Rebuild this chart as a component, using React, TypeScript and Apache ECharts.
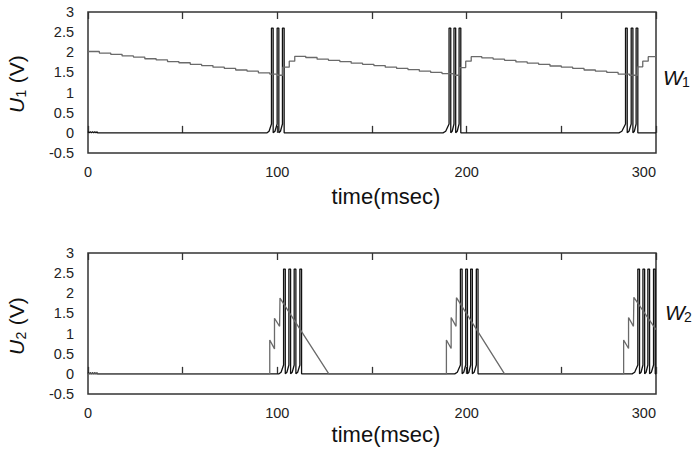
import React, { useEffect, useRef } from "react";
import * as echarts from "echarts";

// ---- axis definitions ----
const X_MIN = 0;
const X_MAX = 300;
const X_TICK_STEP = 50;
const X_LABELS = [0, 100, 200, 300];
const Y_MIN = -0.5;
const Y_MAX = 3;
const Y_STEP = 0.5;

// ---- W1 (gray staircase, top panel) [time, value] ----
const W1: number[][] = [
  [0, 2.02], [6, 1.98], [12, 1.95], [18, 1.91], [24, 1.88], [30, 1.84], [36, 1.81],
  [42, 1.77], [48, 1.74], [54, 1.70], [60, 1.67], [66, 1.63], [72, 1.60], [78, 1.56],
  [84, 1.53], [90, 1.49], [96, 1.46], [100, 1.43],
  [102.9, 1.63], [106.3, 1.78], [109.2, 1.90],
  [115, 1.87], [121, 1.83], [127, 1.80], [133, 1.77], [139, 1.73], [145, 1.70],
  [151, 1.67], [157, 1.63], [163, 1.60], [169, 1.57], [175, 1.53], [181, 1.50],
  [187, 1.47], [193, 1.43],
  [196.2, 1.62], [199.5, 1.78], [202.4, 1.89],
  [208, 1.86], [214, 1.83], [220, 1.80], [226, 1.76], [232, 1.73], [238, 1.70],
  [244, 1.66], [250, 1.63], [256, 1.60], [262, 1.56], [268, 1.53], [274, 1.50],
  [280, 1.46], [286, 1.43],
  [290.2, 1.64], [293, 1.78], [295.9, 1.89], [300, 1.89],
];

// ---- W2 (gray sawtooth, bottom panel) [time, value] ----
const W2: number[][] = [
  [0, 0], [96.0, 0], [96.0, 0.84], [98.5, 0.62], [98.5, 1.38], [101.2, 1.18],
  [101.4, 1.88], [127.2, 0],
  [189.3, 0], [189.3, 0.84], [191.8, 0.63], [191.8, 1.40], [194.4, 1.18],
  [194.6, 1.89], [220, 0],
  [282.9, 0], [282.9, 0.84], [285.5, 0.63], [285.5, 1.40], [288.1, 1.18],
  [288.3, 1.90], [300, 1.10],
];

// ---- spike trains (black traces) ----
const START_BLIP: number[][] = [
  [0, 0.03], [0.6, 0], [1.2, 0.03], [1.8, 0], [2.4, 0.03], [3.0, 0], [3.6, 0.03], [4.2, 0], [4.8, 0.03], [5.0, 0],
];
const U1_ONSETS = [94.6, 187.5, 280.4];
const U1_SPIKES = [
  [96.9, 99.9, 102.7],
  [190.7, 193.3, 196.0],
  [283.9, 286.9, 289.5],
];
const U2_ONSETS = [100.9, 193.7, 287.4];
const U2_SPIKES = [
  [103.3, 106.1, 108.9, 111.9],
  [196.7, 199.5, 202.1, 205.1],
  [290.4, 293.1, 295.7, 298.7],
];
const SPIKE_PEAK = 2.6;
const SPIKE_THRESHOLD = 0.22;
const SPIKE_WIDTH = 0.9;

function buildTrace(onsets: number[], spikes: number[][]): number[][] {
  const pts: number[][] = START_BLIP.map((p) => p.slice());
  onsets.forEach((on, i) => {
    pts.push([on, 0]);
    let prev = on;
    spikes[i].forEach((s) => {
      pts.push([prev + (s - prev) * 0.45, 0.04]);
      pts.push([s, SPIKE_THRESHOLD]);
      pts.push([s, SPIKE_PEAK]);
      pts.push([s + SPIKE_WIDTH, SPIKE_PEAK]);
      pts.push([s + SPIKE_WIDTH, 0]);
      prev = s + SPIKE_WIDTH;
    });
  });
  pts.push([X_MAX, 0]);
  return pts;
}

const FONT = "'Liberation Sans', Arial, Helvetica, sans-serif";
const FRAME = "#333";
const BLACK = "#111";
const GRAY = "#6a6a6a";

function makeAxes(gridIndex: number) {
  const bottom = {
    type: "value",
    gridIndex,
    position: "bottom",
    min: X_MIN,
    max: X_MAX,
    interval: X_TICK_STEP,
    axisLine: { show: false },
    axisTick: { show: true, inside: true, length: 7, lineStyle: { color: FRAME, width: 1.3 } },
    splitLine: { show: false },
    axisLabel: {
      show: true,
      margin: 11,
      fontSize: 14.5,
      fontFamily: FONT,
      color: "#222",
      alignMaxLabel: "right",
      formatter: (v: number) => (X_LABELS.indexOf(Math.round(v)) >= 0 ? String(Math.round(v)) : ""),
    },
  };
  const top = {
    type: "value",
    gridIndex,
    position: "top",
    min: X_MIN,
    max: X_MAX,
    interval: X_TICK_STEP,
    axisLine: { show: false },
    axisTick: { show: true, inside: true, length: 7, lineStyle: { color: FRAME, width: 1.3 } },
    splitLine: { show: false },
    axisLabel: { show: false },
  };
  const y = {
    type: "value",
    gridIndex,
    min: Y_MIN,
    max: Y_MAX,
    interval: Y_STEP,
    axisLine: { show: false },
    axisTick: { show: false },
    splitLine: { show: false },
    axisLabel: { margin: 14, fontSize: 14.5, fontFamily: FONT, color: "#222" },
  };
  return { bottom, top, y };
}

function yLabel(cx: number, cy: number, sub: string) {
  return {
    type: "group",
    x: cx,
    y: cy,
    rotation: Math.PI / 2,
    children: [
      { type: "text", x: -29, y: 0, style: { text: "U", font: `italic 21px ${FONT}`, fill: "#111", align: "left", verticalAlign: "middle" } },
      { type: "text", x: -13.5, y: 5, style: { text: sub, font: `14px ${FONT}`, fill: "#111", align: "left", verticalAlign: "middle" } },
      { type: "text", x: -5, y: 0, style: { text: " (V)", font: `21px ${FONT}`, fill: "#111", align: "left", verticalAlign: "middle" } },
    ],
  };
}

function wLabel(x: number, y: number, sub: string) {
  return {
    type: "group",
    x,
    y,
    children: [
      { type: "text", x: 0, y: 0, style: { text: "W", font: `italic 21px ${FONT}`, fill: "#111", align: "left", verticalAlign: "middle" } },
      { type: "text", x: 19, y: 5, style: { text: sub, font: `14px ${FONT}`, fill: "#111", align: "left", verticalAlign: "middle" } },
    ],
  };
}

export default function App() {
  const ref = useRef<HTMLDivElement>(null);
  useEffect(() => {
    if (!ref.current) return;
    const chart = echarts.init(ref.current, undefined, { renderer: "svg" });
    const a0 = makeAxes(0);
    const a1 = makeAxes(1);
    const lineBase = { type: "line", showSymbol: false, symbol: "none", silent: true };
    chart.setOption({
      animation: false,
      backgroundColor: "#fff",
      grid: [
        { left: 88, top: 12, width: 568, height: 141, show: true, borderColor: FRAME, borderWidth: 1.5, backgroundColor: "transparent" },
        { left: 88, top: 253, width: 568, height: 141, show: true, borderColor: FRAME, borderWidth: 1.5, backgroundColor: "transparent" },
      ],
      xAxis: [a0.bottom, a0.top, a1.bottom, a1.top],
      yAxis: [a0.y, a1.y],
      series: [
        { ...lineBase, name: "U1", xAxisIndex: 0, yAxisIndex: 0, data: buildTrace(U1_ONSETS, U1_SPIKES), lineStyle: { color: BLACK, width: 1.3 } },
        { ...lineBase, name: "W1", xAxisIndex: 0, yAxisIndex: 0, step: "end", data: W1, lineStyle: { color: GRAY, width: 1.3 } },
        { ...lineBase, name: "U2", xAxisIndex: 2, yAxisIndex: 1, data: buildTrace(U2_ONSETS, U2_SPIKES), lineStyle: { color: BLACK, width: 1.3 } },
        { ...lineBase, name: "W2", xAxisIndex: 2, yAxisIndex: 1, data: W2, lineStyle: { color: GRAY, width: 1.3 } },
      ],
      graphic: [
        { type: "text", x: 386, y: 196.5, style: { text: "time(msec)", font: `22px ${FONT}`, fill: "#111", align: "center", verticalAlign: "middle" } },
        { type: "text", x: 386, y: 434, style: { text: "time(msec)", font: `22px ${FONT}`, fill: "#111", align: "center", verticalAlign: "middle" } },
        yLabel(16, 84, "1"),
        yLabel(16, 326, "2"),
        wLabel(663, 77, "1"),
        wLabel(665, 312, "2"),
      ],
    });
    return () => chart.dispose();
  }, []);
  return <div ref={ref} style={{ position: "absolute", left: 0, top: 0, width: 696, height: 454 }} />;
}
